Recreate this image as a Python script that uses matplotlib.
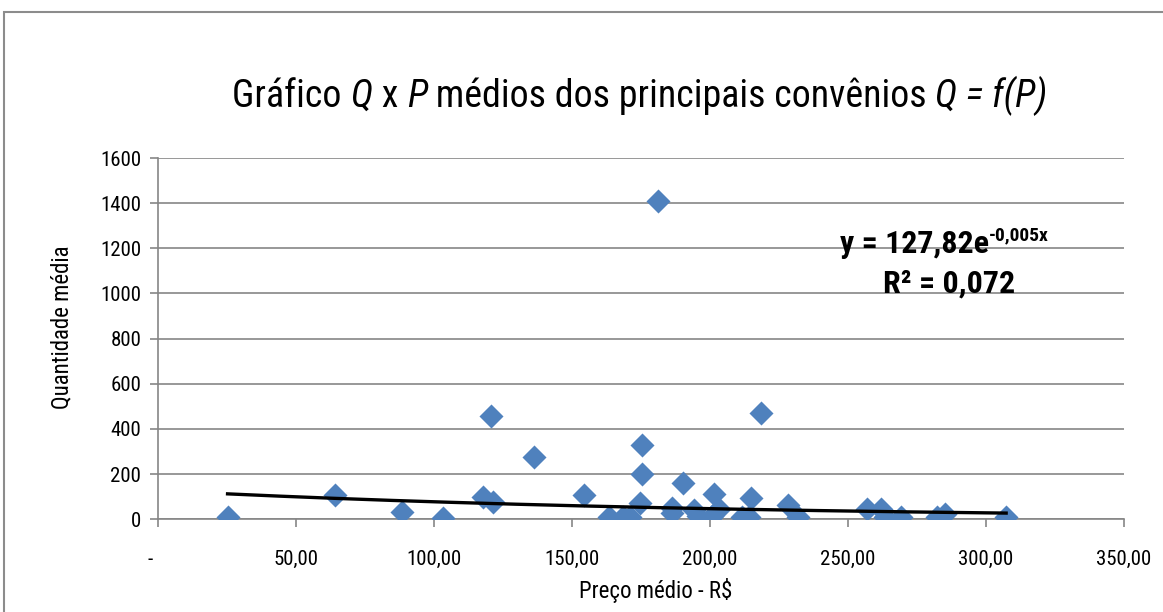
import matplotlib
matplotlib.use("Agg")
import numpy as np
import matplotlib.pyplot as plt
from matplotlib import font_manager
from matplotlib.patches import Rectangle

# preço médio (R$) x quantidade média
preco = [25.2, 64.3, 88.5, 103.4, 117.6, 120.6, 121.5, 136.4, 154.5, 163.4,
         168.3, 170.9, 175.2, 175.5, 174.5, 181.3, 186.1, 186.3, 190.3, 194.3,
         195.5, 200.6, 201.6, 203.1, 211.5, 214.0, 214.9, 218.4, 228.1, 231.9,
         257.0, 261.8, 263.3, 269.1, 282.2, 285.1, 307.3]
quantidade = [9, 107, 34, 4, 100, 456, 75, 276, 107, 8,
              10, 12, 328, 199, 73, 1410, 26, 49, 159, 41,
              15, 15, 110, 44, 8, 8, 93, 471, 63, 12,
              44, 44, 12, 12, 8, 22, 12]

# tendência exponencial (Excel)
coef_a = 127.82
coef_b = -0.005

xticks = [0, 50, 100, 150, 200, 250, 300, 350]
xlabels = ["-   ", "50,00", "100,00", "150,00", "200,00", "250,00", "300,00", "350,00"]
yticks = [0, 200, 400, 600, 800, 1000, 1200, 1400, 1600]

names = {f.name for f in font_manager.fontManager.ttflist}
fam = "DejaVu Sans"
for f in ["Liberation Sans Narrow", "Arial Narrow", "Roboto Condensed", "Liberation Sans"]:
    if f in names:
        fam = f
        break
plt.rcParams["font.family"] = fam

W, H = 1163, 612
fig = plt.figure(figsize=(W / 100, H / 100), dpi=100)
ax = fig.add_axes([158 / W, 1 - 519.3 / H, (1124 - 158) / W, (519.3 - 158) / H])

grey = "#868686"
ax.scatter(preco, quantidade, marker="D", s=150, color="#4F81BD", zorder=3, linewidths=0)

xt = np.linspace(min(preco), max(preco), 300)
ax.plot(xt, coef_a * np.exp(coef_b * xt), color="black", lw=2.4, zorder=4)

ax.set_xlim(0, 350)
ax.set_ylim(0, 1600)
ax.set_xticks(xticks)
ax.set_xticklabels(xlabels)
ax.set_yticks(yticks)
ax.tick_params(labelsize=15, length=6, color=grey, width=1.2, pad=16)
ax.tick_params(axis="y", pad=6)
ax.grid(axis="y", color=grey, lw=1.2)
ax.set_axisbelow(True)
for s in ["top", "right"]:
    ax.spines[s].set_visible(False)
for s in ["left", "bottom"]:
    ax.spines[s].set_color(grey)
    ax.spines[s].set_linewidth(1.2)

fig.text(656 / W, 1 - 598 / H, "Preço médio - R$", fontsize=16.5, ha="center", va="baseline")
fig.text(62 / W, 1 - 327 / H, "Quantidade média", fontsize=16.5, rotation=90,
         ha="center", va="center")

# moldura do gráfico
fig.patches.append(Rectangle((4 / W, -0.1), 1.2, 1 - 12 / H + 0.1, transform=fig.transFigure,
                             fill=False, edgecolor="#8c8c8c", lw=1.5))

renderer = fig.canvas.get_renderer()


def draw_runs(runs, xc, y_base, size, weight="normal"):
    # texto com trechos em itálico, centralizado em xc (pixels)
    texts = []
    for s, style in runs:
        t = fig.text(0, 1 - y_base / H, s, fontsize=size, style=style, weight=weight,
                     va="baseline", ha="left")
        texts.append(t)
    widths = [t.get_window_extent(renderer).width for t in texts]
    x = xc - sum(widths) / 2
    for t, w in zip(texts, widths):
        t.set_x(x / W)
        x += w


draw_runs([("Gráfico ", "normal"), ("Q", "italic"), (" x ", "normal"), ("P", "italic"),
           (" médios dos principais convênios ", "normal"), ("Q = f(P)", "italic")],
          640, 107, 27.3)

# equação da tendência
t1 = fig.text(0, 1 - 253 / H, "y = 127,82e", fontsize=23, weight="bold", va="baseline", ha="left")
t2 = fig.text(0, 1 - 240 / H, "-0,005x", fontsize=14, weight="bold", va="baseline", ha="left")
w1 = t1.get_window_extent(renderer).width
w2 = t2.get_window_extent(renderer).width
x0 = 944 - (w1 + w2) / 2
t1.set_x(x0 / W)
t2.set_x((x0 + w1) / W)
fig.text(949 / W, 1 - 293 / H, "R² = 0,072", fontsize=23, weight="bold", va="baseline", ha="center")

fig.savefig("out.png", dpi=100)
